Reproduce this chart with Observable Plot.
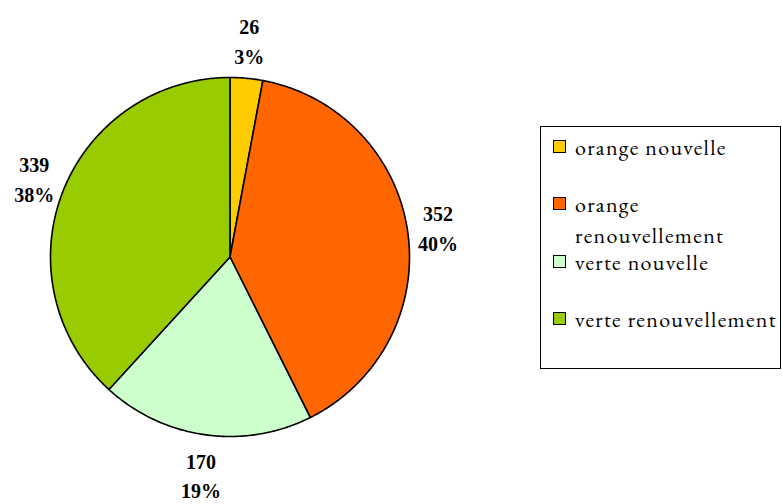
<!DOCTYPE html>
<html>
<head>
<meta charset="utf-8">
<script src="https://cdn.jsdelivr.net/npm/d3@7"></script>
<script src="https://cdn.jsdelivr.net/npm/@observablehq/plot@0.6"></script>
<style>
  html, body { margin: 0; padding: 0; background: #fff; }
  #wrap { position: relative; width: 782px; height: 504px; overflow: hidden; }
  .lg { font-family: Garamond, 'EB Garamond', 'Liberation Serif', serif; }
</style>
</head>
<body>
<div id="wrap"></div>
<script>
const categories = ["orange nouvelle", "orange renouvellement", "verte nouvelle", "verte renouvellement"];
const values = [26, 352, 170, 339];
const percents = ["3%", "40%", "19%", "38%"];
const colors = ["#FFCC00", "#FF6600", "#CCFFCC", "#99CC00"];
const legendLines = [["orange nouvelle"], ["orange", "renouvellement"], ["verte nouvelle"], ["verte renouvellement"]];

const pie = d3.pie().sort(null).value(d => d)(values);

const poly = [];
pie.forEach((p, i) => {
  poly.push({cat: categories[i], x: 0, y: 0});
  const n = Math.max(2, Math.ceil((p.endAngle - p.startAngle) / 0.01));
  for (let k = 0; k <= n; k++) {
    const a = p.startAngle + (p.endAngle - p.startAngle) * k / n;
    poly.push({cat: categories[i], x: Math.sin(a), y: Math.cos(a)});
  }
  poly.push({cat: categories[i], x: 0, y: 0});
});

const labels = pie.map((p, i) => {
  const a = (p.startAngle + p.endAngle) / 2;
  return {cat: categories[i], x: 1.17 * Math.sin(a), y: 1.22 * Math.cos(a), text: values[i] + "\n" + percents[i]};
});

const chart = Plot.plot({
  width: 782,
  height: 504,
  marginLeft: 50,
  marginRight: 373,
  marginTop: 77,
  marginBottom: 68,
  x: {domain: [-1, 1], axis: null},
  y: {domain: [-1, 1], axis: null},
  color: {domain: categories, range: colors},
  style: {background: "#fff"},
  marks: [
    Plot.line(poly, {x: "x", y: "y", z: "cat", fill: "cat", stroke: "#000", strokeWidth: 1.6, strokeLinejoin: "round", curve: "linear"}),
    Plot.text(labels, {x: "x", y: "y", text: "text", fontFamily: "Liberation Serif", fontWeight: "bold", fontSize: 20, lineHeight: 1.5, fill: "#000"})
  ]
});
const wrap = document.getElementById("wrap");
wrap.appendChild(chart);
chart.style.position = "absolute";
chart.style.left = "0";
chart.style.top = "0";

const legend = document.createElement("div");
legend.className = "lg";
Object.assign(legend.style, {
  position: "absolute", left: "540px", top: "126px", width: "241px", height: "243px",
  border: "1px solid #000", boxSizing: "border-box", background: "#fff",
  fontSize: "22px", color: "#000", letterSpacing: "1.3px"
});
categories.forEach((c, i) => {
  const it = document.createElement("div");
  Object.assign(it.style, {position: "absolute", left: "12px", top: (12 + i * 57.4) + "px", display: "flex", alignItems: "flex-start", width: "228px"});
  const sw = document.createElement("div");
  Object.assign(sw.style, {width: "11px", height: "11px", border: "1px solid #000", flex: "none", marginTop: "1px", marginRight: "9px", background: colors[i]});
  const lab = document.createElement("div");
  lab.className = "lg";
  Object.assign(lab.style, {lineHeight: "31px", marginTop: "-7px", whiteSpace: "nowrap"});
  lab.innerHTML = legendLines[i].join("<br>");
  it.appendChild(sw); it.appendChild(lab);
  legend.appendChild(it);
});
wrap.appendChild(legend);
</script>
</body>
</html>
